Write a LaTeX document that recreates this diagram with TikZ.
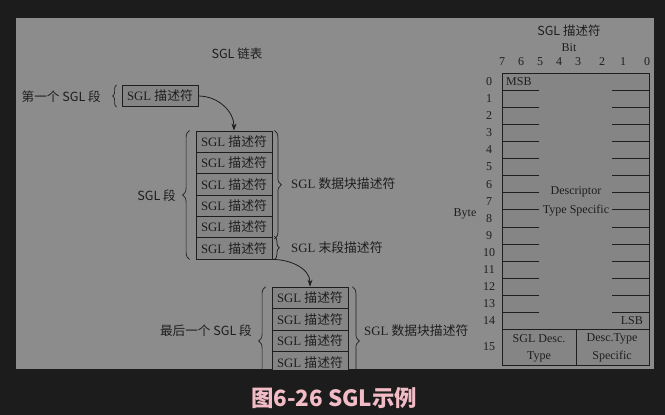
\documentclass[tikz,border=0pt]{standalone}
\usepackage{fontspec}
\setmainfont{Liberation Serif}
\newfontfamily\cjk{Noto Sans CJK SC}
\usetikzlibrary{decorations.pathreplacing,arrows.meta}
\definecolor{bgdark}{HTML}{1C1C1C}
\definecolor{panel}{HTML}{8C8C8C}
\definecolor{boxfill}{HTML}{858585}
\definecolor{ink}{HTML}{1E1E1E}
\definecolor{capcol}{HTML}{F2BCC6}
\newcommand{\sgldesc}{SGL {\cjk 描述符}}
\tikzset{
  sbox/.style={draw=ink, line width=0.8pt, fill=boxfill, minimum width=76, minimum height=21.4,
    inner sep=0pt, text=ink, font=\fontsize{12.8}{13}\selectfont},
  lbl/.style={text=ink, inner sep=0pt, font=\cjk\fontsize{12.6}{13}\selectfont},
  rlbl/.style={text=ink, inner sep=0pt, font=\fontsize{12.8}{13}\selectfont},
  sym/.style={text=ink, inner sep=0pt, font=\fontsize{12}{12}\selectfont},
  brc/.style={draw=ink, line width=0.7pt, decoration={brace, amplitude=#1}, decorate},
  brc/.default=6pt,
  conn/.style={draw=ink, line width=0.8pt, -{Stealth[length=7pt,width=5pt]}},
  tline/.style={draw=ink, line width=0.8pt}
}
\begin{document}
\begin{tikzpicture}[x=1pt,y=-1pt]
\fill[bgdark] (0,0) rectangle (665,415);
\useasboundingbox (0,0) rectangle (665,415);
\fill[panel] (16,18) rectangle (654,369);

\begin{scope}
\clip (16,18) rectangle (654,369);
% ---------- left: SGL list ----------
\node[lbl, font=\cjk\fontsize{12.5}{13}\selectfont] (ttl) at (237,54) {SGL 链表};

\node[sbox] (f) at (160,96) {\sgldesc};
\node[lbl, anchor=east] (lf) at (101,97) {第一个 SGL 段};
\draw[brc=4pt] ([xshift=-5pt]f.south west) -- ([xshift=-5pt]f.north west);

\foreach \i in {1,...,6}
  \node[sbox] (a\i) at (234,{131+21.33*(\i-0.5)}) {\sgldesc};
\foreach \i in {1,...,4}
  \node[sbox] (c\i) at (310,{287+21.5*(\i-0.5)}) {\sgldesc};

\draw[brc=7pt] ([xshift=-6pt]a6.south west) -- ([xshift=-6pt]a1.north west);
\node[lbl, anchor=east] (lseg) at (176,196) {SGL 段};

\draw[brc=7pt] ([xshift=2pt]a1.north east) -- ([xshift=2pt,yshift=-1pt]a5.south east);
\node[rlbl, anchor=west] (ldata1) at (291,184) {SGL {\cjk 数据块描述符}};
\draw[brc=5pt] ([xshift=2pt,yshift=1pt]a6.north east) -- ([xshift=2pt]a6.south east);
\node[rlbl, anchor=west] (lend) at (291,248) {SGL {\cjk 末段描述符}};

\draw[brc=7pt] ([xshift=-6pt,yshift=-22pt]c4.south west) -- ([xshift=-6pt]c1.north west);
\node[lbl, anchor=east] (llast) at (252,331) {最后一个 SGL 段};
\draw[brc=7pt] ([xshift=4pt]c1.north east) -- ([xshift=4pt,yshift=-22pt]c4.south east);
\node[rlbl, anchor=west] (ldata2) at (364,331) {SGL {\cjk 数据块描述符}};

\draw[conn] (f.east) to[out=0,in=90] (a1.north);
\draw[conn] (a6.south east) to[out=0,in=90] (c1.north);
\end{scope}

% ---------- right: descriptor table ----------
\node[lbl, font=\cjk\fontsize{12.5}{13}\selectfont] (ttl2) at (569,31) {SGL 描述符};
\node[sym] (bit) at (569,48) {Bit};
\foreach \b/\x in {7/502,6/521,5/540,4/559,3/578,2/602,1/623,0/647}
  \node[sym] (bit\b) at (\x,62) {\b};

\draw[tline, fill=boxfill] (502,73) rectangle (649,365);
\foreach \i in {1,...,14}{
  \draw[tline] (502,{73+17.1*\i}) -- (539,{73+17.1*\i});
  \draw[tline] (612,{73+17.1*\i}) -- (649,{73+17.1*\i});
}
\draw[tline] (502,329.5) -- (649,329.5);
\draw[tline] (576,329.5) -- (576,365);

\foreach \i in {0,...,14}
  \node[sym] (by\i) at (489,{73+17.1*\i+8.55}) {\i};
\node[sym] (by15) at (489,347) {15};
\node[sym] (byte) at (465,214) {Byte};

\node[sym, anchor=west] (msb) at (506,82) {MSB};
\node[sym, anchor=east] (lsb) at (643,321) {LSB};
\node[sym] (d1) at (576,192) {Descriptor};
\node[sym] (d2) at (576,211) {Type Specific};
\node[sym] (e1) at (539,339) {SGL Desc.};
\node[sym] (e2) at (539,357) {Type};
\node[sym] (g1) at (612,339) {Desc.Type};
\node[sym] (g2) at (612,357) {Specific};

% ---------- caption ----------
\node[text=capcol, inner sep=0pt, font=\cjk\bfseries\fontsize{22.4}{23}\selectfont] (cap) at (334,398) {图6-26 SGL示例};
\end{tikzpicture}
\end{document}
